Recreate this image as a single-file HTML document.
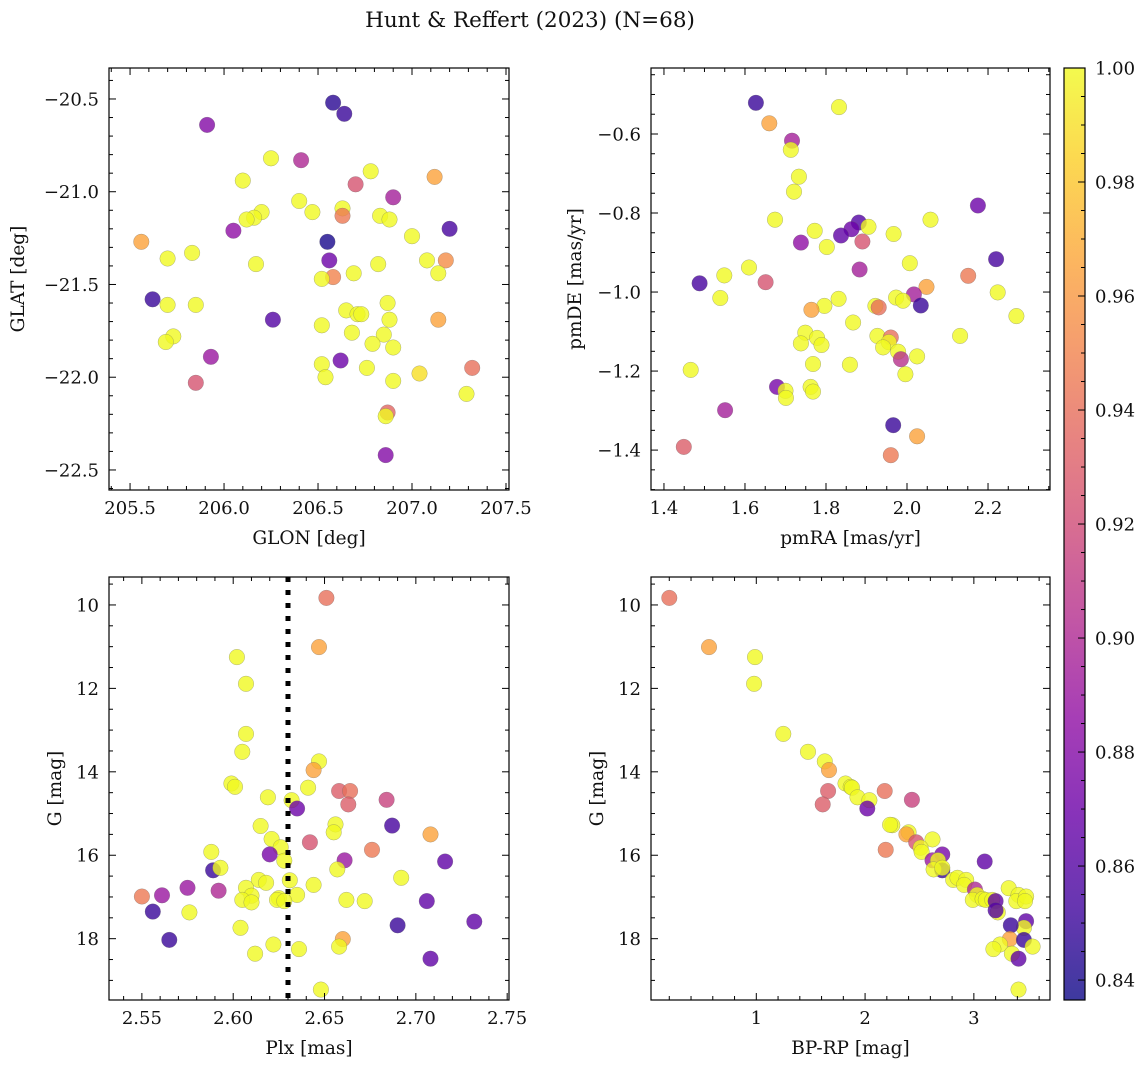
<!DOCTYPE html>
<html><head><meta charset="utf-8">
<style>
html,body{margin:0;padding:0;background:#fff;}
svg{display:block;font-family:"DejaVu Serif","Liberation Serif",serif;}
</style></head>
<body>
<svg id="fig" width="1148" height="1067" viewBox="0 0 1148 1067" xmlns="http://www.w3.org/2000/svg">
<text x="530" y="27" font-size="21.5" text-anchor="middle" fill="#111">Hunt &amp; Reffert (2023) (N=68)</text>
</svg>
<script>
// Probability colour scale
const cbTicks = [0.84,0.86,0.88,0.90,0.92,0.94,0.96,0.98,1.00];
const cbMin = 0.8365, cbMax = 1.0;

// Panel 1: GLON / GLAT
const tlGlon = [206.58,206.64,205.91,206.25,206.41,206.78,206.10,206.70,207.12,206.90,206.40,206.47,206.63,206.63,206.20,206.16,206.12,206.83,206.88,207.20,206.05,207.00,205.56,206.55,205.70,205.83,206.56,206.17,206.82,207.08,207.18,206.69,207.14,206.58,206.52,205.62,205.70,205.85,206.87,206.65,206.71,206.73,206.88,206.26,207.14,206.52,206.68,206.85,205.73,205.69,206.79,206.90,205.93,206.62,206.52,206.76,207.32,207.04,206.54,206.90,205.85,207.29,206.87,206.86,206.86];
const tlGlat = [-20.52,-20.58,-20.64,-20.82,-20.83,-20.89,-20.94,-20.96,-20.92,-21.03,-21.05,-21.11,-21.09,-21.13,-21.11,-21.14,-21.15,-21.13,-21.15,-21.20,-21.21,-21.24,-21.27,-21.27,-21.36,-21.33,-21.37,-21.39,-21.39,-21.37,-21.37,-21.44,-21.44,-21.46,-21.47,-21.58,-21.61,-21.61,-21.60,-21.64,-21.66,-21.66,-21.69,-21.69,-21.69,-21.72,-21.76,-21.77,-21.78,-21.81,-21.82,-21.84,-21.89,-21.91,-21.93,-21.95,-21.95,-21.98,-22.00,-22.02,-22.03,-22.09,-22.19,-22.21,-22.42];
const tlProb = [0.845,0.85,0.88,1,0.90,1,1,0.925,0.965,0.895,1,1,1,0.945,1,1,1,1,1,0.855,0.885,1,0.965,0.84,1,1,0.87,1,1,1,0.955,1,1,0.95,1,0.85,1,1,1,1,1,1,1,0.86,0.965,1,1,1,1,1,1,1,0.89,0.87,1,1,0.94,0.99,1,1,0.925,1,0.935,1,0.88];

// Panel 2: pmRA / pmDE
const trPmra = [1.627,1.832,1.660,1.716,1.713,1.733,1.721,2.175,1.674,2.058,1.881,1.905,1.863,1.837,1.772,1.967,1.738,1.890,1.802,2.220,2.007,1.610,1.883,1.549,2.151,1.488,1.651,2.048,2.224,2.017,1.539,1.831,1.973,1.990,2.034,1.796,1.922,1.930,1.764,2.270,1.867,1.749,1.927,2.131,1.960,1.778,1.955,1.738,1.789,1.941,1.978,1.985,2.025,1.768,1.859,1.466,1.996,1.679,1.762,1.700,1.768,1.701,1.551,1.966,2.025,1.449,1.960];
const trPmde = [-0.521,-0.532,-0.573,-0.617,-0.640,-0.708,-0.746,-0.781,-0.817,-0.817,-0.824,-0.835,-0.841,-0.857,-0.845,-0.853,-0.875,-0.872,-0.886,-0.917,-0.927,-0.938,-0.943,-0.958,-0.959,-0.978,-0.975,-0.987,-1.001,-1.006,-1.015,-1.017,-1.014,-1.022,-1.034,-1.035,-1.035,-1.039,-1.045,-1.061,-1.077,-1.103,-1.111,-1.111,-1.115,-1.116,-1.127,-1.130,-1.134,-1.140,-1.151,-1.170,-1.163,-1.182,-1.184,-1.197,-1.208,-1.240,-1.240,-1.250,-1.252,-1.268,-1.299,-1.337,-1.365,-1.392,-1.413];
const trProb = [0.85,1,0.965,0.895,1,1,1,0.87,1,1,0.86,1,0.87,0.865,1,1,0.885,0.925,1,0.855,1,1,0.895,1,0.945,0.855,0.925,0.965,1,0.895,1,1,1,1,0.85,1,1,0.94,0.965,1,1,1,1,1,0.94,1,1,1,1,1,1,0.905,1,1,1,1,1,0.875,1,1,1,1,0.895,0.85,0.965,0.93,0.945];

// Panel 3: Plx / G
const blPlx = [2.651,2.647,2.602,2.607,2.607,2.605,2.647,2.644,2.599,2.601,2.641,2.658,2.664,2.663,2.684,2.619,2.632,2.635,2.687,2.615,2.656,2.655,2.708,2.621,2.642,2.626,2.676,2.588,2.620,2.628,2.661,2.716,2.589,2.593,2.657,2.692,2.631,2.614,2.618,2.644,2.575,2.607,2.550,2.561,2.592,2.610,2.635,2.605,2.610,2.625,2.624,2.628,2.662,2.672,2.706,2.556,2.576,2.732,2.690,2.604,2.565,2.660,2.658,2.622,2.636,2.612,2.708,2.648];
const blG = [9.83,11.01,11.25,11.89,13.09,13.52,13.75,13.96,14.28,14.36,14.38,14.46,14.46,14.78,14.67,14.61,14.68,14.88,15.29,15.30,15.26,15.45,15.50,15.61,15.69,15.81,15.87,15.92,15.98,16.13,16.12,16.15,16.36,16.30,16.34,16.54,16.60,16.59,16.66,16.71,16.78,16.78,16.99,16.96,16.85,16.97,16.95,17.07,17.13,17.03,17.07,17.10,17.07,17.10,17.10,17.35,17.37,17.59,17.68,17.74,18.03,18.01,18.19,18.14,18.25,18.36,18.48,19.22];
const blProb = [0.94,0.965,1,1,1,1,1,0.965,1,1,1,0.93,0.94,0.93,0.915,1,1,0.87,0.855,1,1,1,0.965,1,0.925,1,0.945,1,0.875,1,0.89,0.865,0.85,1,1,1,1,1,1,1,0.89,1,0.945,0.89,0.90,1,1,1,1,1,1,1,1,1,0.865,0.85,1,0.865,0.85,1,0.85,0.965,1,1,1,1,0.865,1];
const plxRef = 2.63;

// Panel 4: BP-RP / G
const brColor = [0.20,0.565,0.988,0.98,1.248,1.475,1.63,1.668,1.82,1.868,1.88,2.18,1.66,1.61,2.43,1.93,2.04,2.02,2.25,2.23,2.40,2.38,2.47,2.62,2.51,2.52,2.19,2.71,3.10,2.62,2.67,2.71,2.63,2.71,2.81,2.85,2.93,2.91,3.01,3.03,2.99,3.08,3.11,3.17,3.20,3.22,3.20,3.32,3.41,3.39,3.48,3.47,3.48,3.46,3.34,3.33,3.46,3.54,3.24,3.18,3.35,3.41,3.41];
const brG = [9.83,11.01,11.25,11.89,13.09,13.52,13.75,13.96,14.28,14.36,14.38,14.46,14.46,14.78,14.67,14.61,14.68,14.88,15.28,15.27,15.45,15.50,15.69,15.62,15.82,15.92,15.87,15.98,16.15,16.12,16.12,16.36,16.34,16.30,16.59,16.54,16.59,16.71,16.82,16.95,17.07,17.05,17.07,17.07,17.10,17.37,17.32,16.79,16.95,17.10,16.99,17.10,17.58,17.74,17.68,18.01,18.03,18.19,18.14,18.25,18.36,18.48,19.22];
const brProb = [0.94,0.965,1,1,1,1,1,0.965,1,1,1,0.94,0.93,0.93,0.915,1,1,0.87,1,1,1,0.965,0.925,1,1,1,0.945,0.875,0.865,0.89,1,0.85,1,1,1,1,1,1,0.90,1,1,1,1,1,0.865,1,0.86,1,1,1,1,1,0.865,1,0.85,0.965,0.85,1,1,1,1,0.865,1];

const NS = "http://www.w3.org/2000/svg";
const svg = document.getElementById('fig');
function mk(tag, attrs, parent){
  const e = document.createElementNS(NS, tag);
  for (const k in attrs) e.setAttribute(k, attrs[k]);
  (parent||svg).appendChild(e);
  return e;
}
const plasma = [[0,13,8,135],[0.1,65,4,157],[0.2,106,0,168],[0.3,143,13,164],[0.4,177,42,144],[0.5,204,71,120],[0.6,225,100,98],[0.7,242,132,75],[0.8,252,166,54],[0.9,252,206,37],[1,240,249,33]];
function cmap(v){
  let t = (v - cbMin)/(cbMax - cbMin); t = Math.max(0, Math.min(1, t));
  for (let i=1;i<plasma.length;i++){
    if (t <= plasma[i][0]){
      const a = plasma[i-1], b = plasma[i], f = (t-a[0])/(b[0]-a[0]);
      return 'rgb(' + [1,2,3].map(j => Math.round(a[j] + f*(b[j]-a[j]))).join(',') + ')';
    }
  }
  return 'rgb(240,249,33)';
}
function fmt(v, d){ const s = v.toFixed(d); return v < 0 ? '\u2212' + s.slice(1) : s; }

function panel(o){
  const g = mk('g', {});
  
  
  const L=o.x0, R=o.x1, T=o.y0, B=o.y1;
  const sx = v => L + (v - o.xmin)/(o.xmax - o.xmin)*(R - L);
  const sy = v => o.yinv ? T + (v - o.ymin)/(o.ymax - o.ymin)*(B - T) : B - (v - o.ymin)/(o.ymax - o.ymin)*(B - T);
  const pg = mk('g', {}, g);
  
  
  for (let i=0;i<o.xs.length;i++){
    const c = mk('circle', {cx:sx(o.xs[i]).toFixed(1), cy:sy(o.ys[i]).toFixed(1), r:7.8, fill:cmap(o.cs[i]), 'fill-opacity':0.8, stroke:'#666', 'stroke-opacity':0.5, 'stroke-width':0.5}, pg);
    
    
  }
  if (o.vline !== undefined){
    const vl = mk('line', {x1:sx(o.vline), x2:sx(o.vline), y1:T, y2:B, stroke:'#000', 'stroke-width':5, 'stroke-dasharray':'5 8'}, g);
    
    
  }
  const tg = mk('g', {stroke:'#000', 'stroke-width':1}, g);
  
  
  const eps = 1e-9;
  for (let v = Math.ceil(o.xmin/o.xminor - eps)*o.xminor; v <= o.xmax + eps; v += o.xminor){
    const isMaj = Math.abs(v/o.xmajor - Math.round(v/o.xmajor)) < 1e-6;
    const len = isMaj ? 7 : 4, x = sx(v);
    mk('line', {x1:x, x2:x, y1:B, y2:B-len}, tg);
    mk('line', {x1:x, x2:x, y1:T, y2:T+len}, tg);
  }
  for (let v = Math.ceil(o.ymin/o.yminor - eps)*o.yminor; v <= o.ymax + eps; v += o.yminor){
    const isMaj = Math.abs(v/o.ymajor - Math.round(v/o.ymajor)) < 1e-6;
    const len = isMaj ? 7 : 4, y = sy(v);
    mk('line', {x1:L, x2:L+len, y1:y, y2:y}, tg);
    mk('line', {x1:R, x2:R-len, y1:y, y2:y}, tg);
  }
  const fr = mk('rect', {x:L, y:T, width:R-L, height:B-T, fill:'none', stroke:'#000', 'stroke-width':1.2}, g);
  
  
  o.xticks.forEach(v => {
    const t = mk('text', {x:sx(v), y:B+24, 'font-size':18, 'text-anchor':'middle', fill:'#111'}, g);
    t.textContent = fmt(v, o.xdec);
    
    
  });
  o.yticks.forEach(v => {
    const t = mk('text', {x:L-10, y:sy(v)+6.5, 'font-size':18, 'text-anchor':'end', fill:'#111'}, g);
    t.textContent = fmt(v, o.ydec);
    
    
  });
  const xl = mk('text', {x:(L+R)/2, y:B+54, 'font-size':18.5, 'text-anchor':'middle', fill:'#111'}, g);
  xl.textContent = o.xlabel;
  
  
  const yl = mk('text', {x:0, y:0, 'font-size':18.5, 'text-anchor':'middle', fill:'#111', transform:'translate(' + o.ylx + ',' + (T+B)/2 + ') rotate(-90)'}, g);
  yl.textContent = o.ylabel;
  
  
}

panel({name:'glon-glat-panel', x0:109, x1:509, y0:68, y1:490, xmin:205.388, xmax:207.516, ymin:-22.608, ymax:-20.333,
  xs:tlGlon, ys:tlGlat, cs:tlProb, xmajor:0.5, xminor:0.1, ymajor:0.5, yminor:0.1,
  xticks:[205.5,206.0,206.5,207.0,207.5], yticks:[-20.5,-21.0,-21.5,-22.0,-22.5], xdec:1, ydec:1,
  xlabel:'GLON [deg]', ylabel:'GLAT [deg]', ylx:24});
panel({name:'proper-motion-panel', x0:651, x1:1050, y0:68, y1:490, xmin:1.368, xmax:2.353, ymin:-1.501, ymax:-0.433,
  xs:trPmra, ys:trPmde, cs:trProb, xmajor:0.2, xminor:0.05, ymajor:0.2, yminor:0.05,
  xticks:[1.4,1.6,1.8,2.0,2.2], yticks:[-0.6,-0.8,-1.0,-1.2,-1.4], xdec:1, ydec:1,
  xlabel:'pmRA [mas/yr]', ylabel:'pmDE [mas/yr]', ylx:581});
panel({name:'parallax-magnitude-panel', x0:109, x1:509, y0:577, y1:1000, xmin:2.532, xmax:2.751, ymin:9.33, ymax:19.47, yinv:true,
  xs:blPlx, ys:blG, cs:blProb, xmajor:0.05, xminor:0.01, ymajor:2, yminor:0.5,
  xticks:[2.55,2.60,2.65,2.70,2.75], yticks:[10,12,14,16,18], xdec:2, ydec:0, vline:plxRef,
  xlabel:'Plx [mas]', ylabel:'G [mag]', ylx:61});
panel({name:'color-magnitude-panel', x0:651, x1:1050, y0:577, y1:1000, xmin:0.032, xmax:3.70, ymin:9.33, ymax:19.47, yinv:true,
  xs:brColor, ys:brG, cs:brProb, xmajor:1, xminor:0.2, ymajor:2, yminor:0.5,
  xticks:[1,2,3], yticks:[10,12,14,16,18], xdec:0, ydec:0,
  xlabel:'BP-RP [mag]', ylabel:'G [mag]', ylx:603});

// Colorbar
(function(){
  const L=1064, R=1085, T=68, B=1000;
  const g = mk('g', {});
  
  
  const defs = mk('defs', {}, g);
  const lg = mk('linearGradient', {id:'cbgrad', x1:0, y1:1, x2:0, y2:0}, defs);
  for (let i=0;i<=20;i++){
    const v = cbMin + (cbMax-cbMin)*i/20;
    mk('stop', {offset:(i/20), 'stop-color':cmap(v), 'stop-opacity':0.8}, lg);
  }
  const r = mk('rect', {x:L, y:T, width:R-L, height:B-T, fill:'url(#cbgrad)', stroke:'#000', 'stroke-width':1.2}, g);
  
  
  const sy = v => B - (v - cbMin)/(cbMax-cbMin)*(B-T);
  for (let k = Math.ceil(cbMin/0.005); k*0.005 <= cbMax + 1e-9; k++){
    const v = k*0.005, y = sy(v), maj = (k % 4 === 0);
    mk('line', {x1:R, x2:R-(maj?7:4), y1:y, y2:y, stroke:'#000', 'stroke-width':1}, g);
  }
  cbTicks.forEach(v => {
    const t = mk('text', {x:R+10, y:sy(v)+6.5, 'font-size':18, fill:'#111'}, g);
    t.textContent = v.toFixed(2);
    
    
  });
})();
</script>
</body></html>
